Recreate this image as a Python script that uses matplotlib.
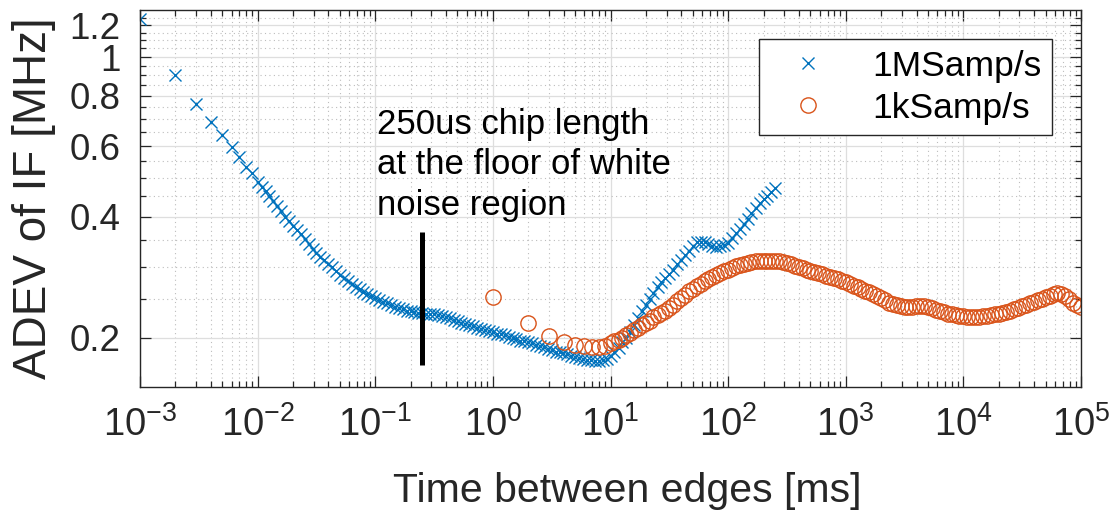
import numpy as np
import matplotlib
matplotlib.use("Agg")
import matplotlib.pyplot as plt
from matplotlib.ticker import FixedLocator, LogLocator, NullFormatter, LogFormatterSciNotation

plt.rcParams['font.family'] = ['Liberation Sans', 'DejaVu Sans']
plt.rcParams['mathtext.fontset'] = 'custom'
plt.rcParams['mathtext.rm'] = 'Liberation Sans'
plt.rcParams['mathtext.it'] = 'Liberation Sans'

# 1 MSamp/s record: averaging time [ms] and ADEV [MHz]
tau_1m = [0.001, 0.002, 0.003, 0.004, 0.005, 0.006, 0.007, 0.008, 0.009,
          0.0100, 0.0108, 0.0117, 0.0126, 0.0136, 0.0147, 0.0158, 0.0171, 0.0185, 0.0200,
          0.0215, 0.0232, 0.0251, 0.0271, 0.0293, 0.0316, 0.0341, 0.0369, 0.0398, 0.0430,
          0.0464, 0.0501, 0.0541, 0.0584, 0.0631, 0.0681, 0.0736, 0.0794, 0.0858, 0.0926,
          0.100, 0.108, 0.117, 0.126, 0.136, 0.147, 0.158, 0.171, 0.185, 0.200,
          0.215, 0.232, 0.251, 0.271, 0.293, 0.316, 0.341, 0.369, 0.398, 0.430,
          0.464, 0.501, 0.541, 0.584, 0.631, 0.681, 0.736, 0.794, 0.858, 0.926,
          1.00, 1.08, 1.17, 1.26, 1.36, 1.47, 1.58, 1.71, 1.85, 2.00,
          2.15, 2.32, 2.51, 2.71, 2.93, 3.16, 3.41, 3.69, 3.98, 4.30,
          4.64, 5.01, 5.41, 5.84, 6.31, 6.81, 7.36, 7.94, 8.58, 9.26,
          10.0, 10.8, 11.7, 12.6, 13.6, 14.7, 15.8, 17.1, 18.5, 20.0,
          21.5, 23.2, 25.1, 27.1, 29.3, 31.6, 34.1, 36.9, 39.8, 43.0,
          46.4, 50.1, 54.1, 58.4, 63.1, 68.1, 73.6, 79.4, 85.8, 92.6,
          100, 108, 117, 126, 136, 147, 158, 171, 185, 200,
          215, 232, 251]
adev_1m = [1.24, 0.90, 0.764, 0.689, 0.640, 0.597, 0.564, 0.532, 0.514,
           0.489, 0.476, 0.463, 0.451, 0.438, 0.425, 0.413, 0.400, 0.390, 0.380,
           0.371, 0.362, 0.352, 0.342, 0.333, 0.325, 0.318, 0.312, 0.306, 0.300,
           0.294, 0.287, 0.282, 0.277, 0.272, 0.268, 0.264, 0.260, 0.257, 0.254,
           0.252, 0.249, 0.246, 0.244, 0.241, 0.239, 0.237, 0.236, 0.234, 0.233,
           0.232, 0.231, 0.231, 0.230, 0.230, 0.229, 0.228, 0.227, 0.226, 0.224,
           0.222, 0.220, 0.218, 0.217, 0.215, 0.214, 0.212, 0.211, 0.209, 0.208,
           0.207, 0.205, 0.204, 0.203, 0.201, 0.200, 0.199, 0.197, 0.196, 0.195,
           0.194, 0.192, 0.191, 0.190, 0.188, 0.187, 0.185, 0.184, 0.183, 0.182,
           0.180, 0.179, 0.178, 0.177, 0.176, 0.176, 0.175, 0.175, 0.176, 0.177,
           0.180, 0.184, 0.189, 0.195, 0.200, 0.207, 0.215, 0.224, 0.233, 0.242,
           0.250, 0.259, 0.268, 0.275, 0.282, 0.289, 0.296, 0.305, 0.313, 0.321,
           0.329, 0.338, 0.347, 0.347, 0.346, 0.343, 0.339, 0.337, 0.338, 0.340,
           0.344, 0.354, 0.364, 0.374, 0.385, 0.396, 0.408, 0.420, 0.433, 0.443,
           0.452, 0.462, 0.472]

# 1 kSamp/s record
tau_1k = [1, 2, 3, 4, 5, 6, 7, 8, 9,
          10.0, 10.8, 11.7, 12.6, 13.6, 14.7, 15.8, 17.1, 18.5, 20.0,
          21.5, 23.2, 25.1, 27.1, 29.3, 31.6, 34.1, 36.9, 39.8, 43.0,
          46.4, 50.1, 54.1, 58.4, 63.1, 68.1, 73.6, 79.4, 85.8, 92.6,
          100, 108, 117, 126, 136, 147, 158, 171, 185, 200,
          215, 232, 251, 271, 293, 316, 341, 369, 398, 430,
          464, 501, 541, 584, 631, 681, 736, 794, 858, 926,
          1000, 1080, 1170, 1260, 1360, 1470, 1580, 1710, 1850, 2000,
          2150, 2320, 2510, 2710, 2930, 3160, 3410, 3690, 3980, 4300,
          4640, 5010, 5410, 5840, 6310, 6810, 7360, 7940, 8580, 9260,
          10000, 10800, 11700, 12600, 13600, 14700, 15800, 17100, 18500, 20000,
          21500, 23200, 25100, 27100, 29300, 31600, 34100, 36900, 39800, 43000,
          46400, 50100, 54100, 58400, 63100, 68100, 73600, 79400, 85800, 92600,
          100000]
adev_1k = [0.253, 0.218, 0.202, 0.195, 0.192, 0.191, 0.190, 0.190, 0.191,
           0.194, 0.196, 0.198, 0.200, 0.203, 0.206, 0.209, 0.212, 0.215, 0.218,
           0.221, 0.225, 0.228, 0.231, 0.234, 0.238, 0.242, 0.247, 0.251, 0.256,
           0.261, 0.265, 0.269, 0.273, 0.277, 0.280, 0.284, 0.287, 0.290, 0.293,
           0.296, 0.299, 0.302, 0.304, 0.306, 0.308, 0.309, 0.310, 0.311, 0.311,
           0.311, 0.311, 0.310, 0.310, 0.309, 0.307, 0.305, 0.302, 0.300, 0.298,
           0.296, 0.294, 0.292, 0.290, 0.288, 0.286, 0.284, 0.282, 0.280, 0.277,
           0.275, 0.273, 0.270, 0.268, 0.265, 0.262, 0.260, 0.257, 0.254, 0.251,
           0.248, 0.245, 0.243, 0.241, 0.240, 0.239, 0.239, 0.239, 0.240, 0.240,
           0.240, 0.239, 0.237, 0.235, 0.233, 0.232, 0.230, 0.229, 0.228, 0.227,
           0.227, 0.226, 0.226, 0.226, 0.226, 0.227, 0.227, 0.228, 0.229, 0.230,
           0.231, 0.232, 0.234, 0.236, 0.238, 0.240, 0.242, 0.244, 0.246, 0.248,
           0.250, 0.253, 0.255, 0.257, 0.258, 0.257, 0.255, 0.250, 0.245, 0.242,
           0.239]

labels = ['1MSamp/s', '1kSamp/s']
chip_len = 0.25          # ms
chip_span = [0.171, 0.367]
note = '250us chip length\nat the floor of white\nnoise region'

xticks = [1e-3, 1e-2, 1e-1, 1e0, 1e1, 1e2, 1e3, 1e4, 1e5]
yticks = [0.2, 0.4, 0.6, 0.8, 1, 1.2]
ytick_labels = ['0.2', '0.4', '0.6', '0.8', '1', '1.2']
yminor = [0.25, 0.3, 0.35, 0.45, 0.5, 0.55, 0.65, 0.7, 0.75, 0.85, 0.9, 0.95,
          1.05, 1.1, 1.15, 1.25]

blue = '#0072BD'
orange = '#D95319'
dark = '#262626'

fig = plt.figure(figsize=(11.18, 5.25), dpi=100)
ax = fig.add_axes([140/1118, 138/525, 941/1118, 377/525])

ax.plot(tau_1m, adev_1m, linestyle='none', marker='x', ms=8.5, mew=1.0,
        color=blue, label=labels[0])
ax.plot(tau_1k, adev_1k, linestyle='none', marker='o', ms=11, mew=1.0,
        mfc='none', color=orange, label=labels[1])
ax.plot([chip_len, chip_len], chip_span, color='black', lw=3.6, solid_capstyle='butt')

ax.set_xscale('log')
ax.set_yscale('log')
ax.set_xlim(1e-3, 1e5)
ax.set_ylim(0.151, 1.309)

ax.xaxis.set_major_locator(FixedLocator(xticks))
ax.xaxis.set_major_formatter(LogFormatterSciNotation())
ax.xaxis.set_minor_locator(LogLocator(base=10, subs=np.arange(2, 10), numticks=100))
ax.xaxis.set_minor_formatter(NullFormatter())
ax.yaxis.set_major_locator(FixedLocator(yticks))
ax.set_yticklabels(ytick_labels)
ax.yaxis.set_minor_locator(FixedLocator(yminor))
ax.yaxis.set_minor_formatter(NullFormatter())

ax.grid(True, which='major', color='#dedede', lw=0.9, linestyle='-')
ax.grid(True, which='minor', color='#bdbdbd', lw=0.8, linestyle=(0, (1, 3)))
ax.set_axisbelow(True)

ax.tick_params(which='both', direction='in', top=True, right=True, colors=dark,
               labelcolor=dark, width=0.9)
ax.tick_params(which='major', length=8)
ax.tick_params(which='minor', length=4.5)
ax.tick_params(axis='y', pad=14, labelsize=26.5)
ax.tick_params(axis='x', pad=14, labelsize=27.5)
for s in ax.spines.values():
    s.set_color(dark)
    s.set_linewidth(1.0)

ax.set_xlabel('Time between edges [ms]', fontsize=29.5, color=dark)
ax.set_ylabel('ADEV of IF [MHz]', fontsize=33, color=dark, va='center')
ax.xaxis.set_label_coords(0.518, -0.225)
ax.yaxis.set_label_coords(-0.113, 0.5)

ax.text(0.1035, 0.539, note, fontsize=25, va='center', ha='left',
        linespacing=1.3, color='black')

leg = ax.legend(loc='upper right', bbox_to_anchor=(0.969, 0.923), fontsize=25.5,
                frameon=True, fancybox=False, framealpha=1, edgecolor=dark,
                handlelength=2.2, handletextpad=0.7, borderpad=0.3,
                labelspacing=0.25, borderaxespad=0)
leg.get_frame().set_linewidth(1.0)

fig.savefig('out.png', dpi=100)
